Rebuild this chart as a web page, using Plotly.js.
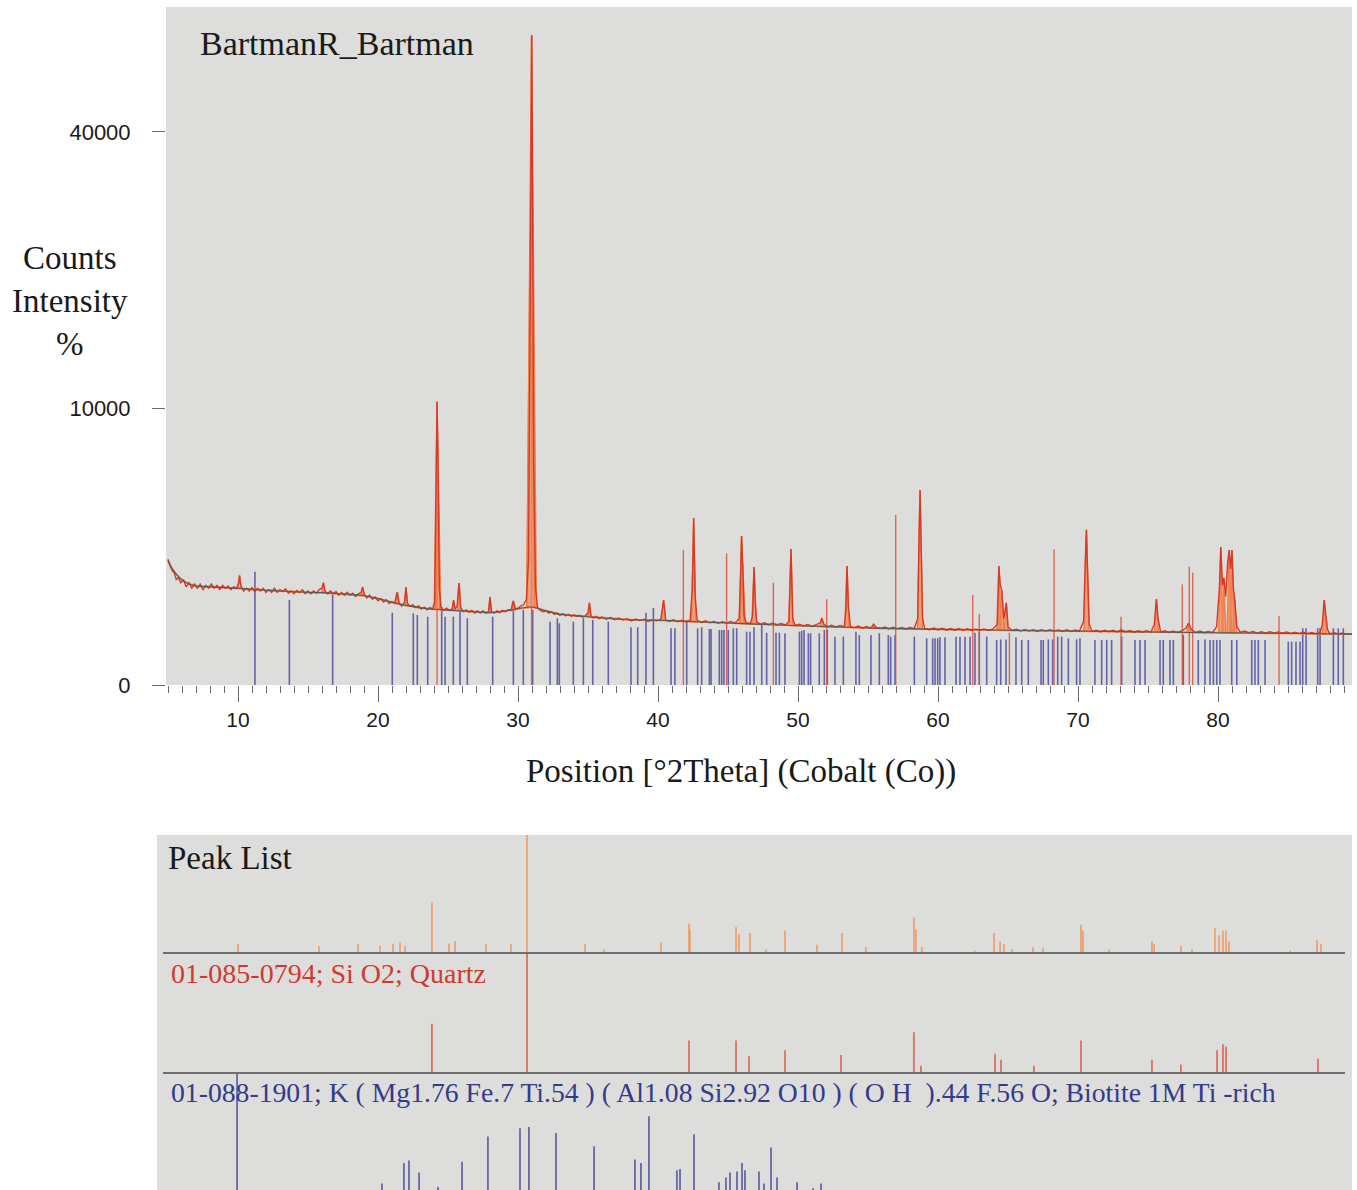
<!DOCTYPE html>
<html>
<head>
<meta charset="utf-8">
<script src="https://cdn.plot.ly/plotly-3.0.1.min.js"></script>
<style>
html,body{margin:0;padding:0;background:#fff;}
#chart{width:1357px;height:1190px;}
</style>
</head>
<body>
<div id="chart"></div>
<script>
// ---------------- DATA ----------------
// Observed scan: [°2Theta, counts]
const observedPattern = [
[5.0,2070],[5.15,1849],[5.3,1722],[5.45,1640],[5.6,1444],[5.75,1521],[5.9,1369],[6.1,1444],[6.3,1260],[6.5,1369],[6.7,1225],[6.9,1332],[7.1,1225],[7.3,1332],[7.5,1190],[7.7,1296],[7.9,1225],[8.1,1332],[8.3,1225],[8.5,1296],[8.7,1190],[8.9,1296],[9.1,1225],[9.3,1282],[9.5,1190],[9.7,1260],[9.9,1225],[10.05,1369],[10.12,1560],[10.2,1296],[10.4,1156],[10.6,1225],[10.8,1156],[11.0,1239],[11.2,1142],[11.4,1225],[11.6,1156],[11.8,1225],[12.0,1122],[12.2,1190],[12.4,1122],[12.6,1225],[12.8,1122],[13.0,1190],[13.2,1142],[13.4,1211],[13.6,1102],[13.8,1156],[14.0,1089],[14.2,1170],[14.4,1116],[14.6,1190],[14.8,1089],[15.0,1156],[15.2,1089],[15.4,1156],[15.6,1102],[15.8,1190],[16.0,1225],[16.1,1369],[16.2,1156],[16.4,1089],[16.6,1156],[16.8,1089],[17.0,1142],[17.2,1056],[17.4,1122],[17.6,1056],[17.8,1122],[18.0,1050],[18.2,1102],[18.4,1024],[18.6,1089],[18.8,1122],[18.9,1260],[19.0,1089],[19.2,992],[19.4,1056],[19.6,961],[19.8,1011],[20.0,930],[20.2,973],[20.4,900],[20.6,949],[20.8,870],[21.0,912],[21.2,870],[21.35,1122],[21.5,870],[21.7,812],[21.9,900],[22.0,1253],[22.1,870],[22.3,812],[22.5,841],[22.7,784],[22.9,818],[23.1,756],[23.3,795],[23.5,740],[23.7,784],[23.9,756],[24.05,900],[24.15,4900],[24.22,10486],[24.3,5776],[24.38,1225],[24.5,784],[24.7,729],[24.9,773],[25.1,729],[25.3,756],[25.4,942],[25.5,756],[25.65,812],[25.78,1362],[25.9,784],[26.1,702],[26.3,740],[26.5,692],[26.7,729],[26.9,676],[27.1,718],[27.3,676],[27.5,718],[27.7,676],[27.9,702],[28.0,1011],[28.1,702],[28.3,676],[28.5,718],[28.7,686],[28.9,729],[29.1,702],[29.3,740],[29.5,729],[29.65,924],[29.8,756],[30.0,773],[30.2,812],[30.4,841],[30.6,961],[30.75,2025],[30.85,14400],[30.93,36100],[30.98,55225],[31.04,32400],[31.12,6400],[31.25,1225],[31.4,784],[31.6,729],[31.8,702],[32.0,718],[32.2,676],[32.4,702],[32.6,650],[32.8,676],[33.0,635],[33.2,666],[33.4,625],[33.6,655],[33.8,615],[34.0,645],[34.2,615],[34.4,635],[34.6,600],[34.8,625],[35.0,676],[35.1,882],[35.2,625],[35.4,586],[35.6,615],[35.8,576],[36.0,605],[36.3,566],[36.6,595],[36.9,557],[37.2,586],[37.5,552],[37.8,576],[38.1,538],[38.4,571],[38.7,543],[39.0,566],[39.3,529],[39.6,557],[39.9,538],[40.2,566],[40.4,942],[40.55,552],[40.8,529],[41.1,557],[41.4,524],[41.7,548],[42.0,520],[42.3,552],[42.45,1225],[42.55,3648],[42.65,1024],[42.8,548],[43.1,511],[43.4,538],[43.7,506],[44.0,529],[44.3,497],[44.6,524],[44.9,502],[45.2,529],[45.5,502],[45.8,576],[45.9,1600],[45.97,2905],[46.05,1936],[46.15,625],[46.3,506],[46.6,493],[46.75,625],[46.86,1823],[46.95,900],[47.05,520],[47.3,484],[47.6,506],[47.9,475],[48.2,502],[48.5,471],[48.8,493],[49.1,467],[49.35,529],[49.5,2421],[49.62,576],[49.8,462],[50.1,484],[50.4,454],[50.7,480],[51.0,449],[51.3,475],[51.6,506],[51.7,586],[51.85,484],[52.1,441],[52.4,467],[52.7,437],[53.0,462],[53.3,441],[53.42,729],[53.5,1849],[53.6,784],[53.75,449],[54.0,428],[54.3,454],[54.6,424],[54.9,449],[55.2,424],[55.4,484],[55.6,433],[55.9,416],[56.2,441],[56.5,412],[56.8,437],[57.1,412],[57.4,433],[57.7,408],[58.0,433],[58.3,416],[58.55,576],[58.65,3025],[58.72,4970],[58.8,2500],[58.9,576],[59.05,416],[59.4,400],[59.7,424],[60.0,396],[60.3,420],[60.6,392],[60.9,416],[61.2,392],[61.5,416],[61.8,388],[62.1,412],[62.4,388],[62.7,408],[63.0,392],[63.3,412],[63.6,388],[63.9,408],[64.25,484],[64.35,1849],[64.45,1296],[64.55,1183],[64.7,576],[64.88,882],[65.0,441],[65.3,388],[65.6,408],[65.9,380],[66.2,404],[66.5,380],[66.8,400],[67.1,376],[67.4,400],[67.7,380],[68.0,400],[68.3,380],[68.6,396],[68.9,376],[69.2,400],[69.5,376],[69.8,396],[70.1,380],[70.4,529],[70.52,2025],[70.6,3147],[70.68,1764],[70.8,484],[71.0,376],[71.3,392],[71.6,369],[71.9,392],[72.2,372],[72.5,392],[72.8,369],[73.1,400],[73.4,369],[73.7,388],[74.0,365],[74.3,384],[74.6,365],[74.9,384],[75.2,361],[75.45,484],[75.6,967],[75.72,576],[75.9,369],[76.2,384],[76.5,361],[76.8,380],[77.1,361],[77.4,384],[77.7,420],[77.9,502],[78.1,400],[78.4,361],[78.7,380],[79.0,357],[79.3,376],[79.6,357],[79.9,441],[80.1,1225],[80.2,2490],[80.32,1296],[80.42,1498],[80.55,1024],[80.7,2025],[80.8,2381],[80.9,1764],[81.0,2381],[81.1,1225],[81.2,942],[81.35,441],[81.6,361],[81.9,380],[82.2,357],[82.5,376],[82.8,353],[83.1,372],[83.4,353],[83.7,372],[84.0,350],[84.3,369],[84.6,350],[84.9,369],[85.2,346],[85.5,365],[85.8,346],[86.1,365],[86.4,346],[86.7,361],[87.0,342],[87.3,361],[87.45,484],[87.58,942],[87.7,676],[87.82,400],[88.0,342],[88.3,357],[88.6,339],[88.9,353],[89.2,335],[89.6,346]
];

// Fitted background: [°2Theta, counts]
const backgroundPattern = [
[5.0,2025],[5.3,1764],[5.6,1600],[6.0,1444],[6.5,1332],[7,1282],[8,1260],[9,1239],[10,1225],[11,1197],[12,1176],[13,1156],[14,1136],[15,1122],[16,1116],[17,1096],[18,1076],[19,1043],[20,980],[21,894],[22,829],[23,778],[24,751],[25,734],[26,718],[27,697],[28,686],[29,713],[30,762],[31,795],[32,718],[33,655],[34,630],[35,610],[36,586],[37,571],[38,557],[40,548],[42,529],[44,511],[46,493],[48,475],[50,458],[52,445],[54,433],[56,420],[58,412],[60,404],[62,400],[64,396],[66,388],[68,384],[70,380],[72,376],[74,369],[76,365],[78,361],[80,357],[82,353],[84,350],[86,346],[88,342],[89.6,339]
];

// Calculated profile peaks: position, top counts, base counts, half width (°2Theta)
const calcPeakPos   = [10.1,16.1,18.9,21.4,22.0,24.22,24.3,25.4,25.8,28.0,29.7,30.97,30.9,35.1,40.4,42.55,45.97,46.05,46.86,49.5,51.7,53.5,55.4,58.72,64.35,64.55,64.88,70.6,75.6,77.9,80.2,80.42,80.8,81.0,81.2,87.6];
const calcPeakTop   = [1584,1362,1253,1129,1253,10486,5776,942,1362,1011,924,55225,32000,882,942,3648,2905,1936,1823,2421,586,1849,484,4970,1849,1183,882,3147,967,502,2490,1498,2381,2381,942,942];
const calcPeakBase  = [1225,1116,1060,870,829,751,751,734,725,686,740,790,790,605,548,529,500,500,490,462,449,437,424,412,396,396,394,380,367,361,357,357,357,355,355,343];
const calcPeakHalfW = [0.12,0.12,0.12,0.12,0.12,0.2,0.18,0.1,0.13,0.12,0.12,0.34,0.28,0.12,0.14,0.16,0.16,0.18,0.15,0.15,0.14,0.15,0.12,0.18,0.16,0.16,0.14,0.18,0.14,0.14,0.15,0.13,0.15,0.15,0.13,0.14];

// Reference sticks in the scan panel (Biotite, blue): [°2Theta, counts]
const biotiteScanSticks = [
[11.21,1679],[13.67,945],[16.76,1059],[21.02,683],[22.52,672],[22.81,641],[23.55,610],[24.55,801],[24.79,610],[25.38,610],[25.86,769],[26.38,582],[28.19,610],[29.67,837],[30.38,736],[31.05,736],[32.29,524],[32.81,582],[32.95,498],[33.95,524],[34.67,582],[35.34,553],[36.45,524],[38.07,436],[38.55,436],[39.14,678],[39.67,775],[40.93,420],[41.21,420],[42.05,553],[42.83,420],[43.12,436],[43.67,410],[43.79,410],[44.38,396],[44.55,396],[44.71,396],[45.02,396],[45.38,420],[45.62,420],[46.33,372],[46.57,372],[46.86,436],[47.41,471],[47.76,357],[48.43,357],[48.67,357],[49.07,350],[50.1,372],[50.26,385],[50.43,396],[50.74,350],[50.9,350],[51.52,350],[51.88,396],[52.09,396],[52.64,306],[53.24,306],[54.14,372],[54.38,327],[55.21,327],[55.81,350],[56.45,327],[56.62,306],[56.93,327],[58.31,306],[59.19,285],[59.62,285],[59.79,285],[59.98,285],[60.14,299],[60.5,299],[61.29,306],[61.57,306],[61.93,306],[62.29,306],[62.64,357],[62.95,372],[63.48,306],[64.19,265],[64.48,272],[64.86,272],[65.57,299],[65.98,265],[66.45,265],[67.36,265],[67.52,265],[67.88,272],[68.19,272],[68.55,306],[68.83,306],[69.31,285],[69.9,272],[70.14,285],[71.21,265],[71.69,265],[72.05,265],[72.4,265],[73.12,306],[74.07,265],[74.43,265],[74.79,265],[75.86,265],[76.09,265],[76.57,265],[76.81,265],[77.52,327],[78.59,265],[79.07,272],[79.43,265],[79.67,265],[79.91,265],[80.14,265],[80.98,265],[81.34,265],[82.41,265],[82.64,265],[82.88,265],[83.36,265],[85.02,245],[85.26,245],[85.57,245],[85.86,245],[86.05,420],[86.29,420],[87.12,420],[87.29,420],[88.24,420],[88.59,420],[88.95,420]
];

// Red marker sticks in the scan panel: [°2Theta, counts]
const redScanSticks = [
[24.22,10486],[30.97,55225],[41.81,2384],[44.9,2266],[48.24,1369],[52.05,961],[56.98,3782],[62.48,1059],[62.95,659],[65.1,357],[68.29,2409],[73.07,610],[77.45,1325],[77.95,1830],[78.19,1650],[84.36,623]
];

// Peak List panel: [°2Theta, relative %]
const peakList = [
[10.36,7.6],[16.14,6],[18.93,7.6],[20.5,6],[21.43,7.6],[21.93,9],[22.29,6],[24.21,43],[25.43,8],[25.86,10],[28.07,7.6],[29.86,7.6],[31.0,100],[35.14,7.6],[36.5,3],[40.57,9],[42.57,25],[42.64,20],[45.93,22],[46.14,16],[46.93,17],[48.07,3],[49.43,19],[51.71,7],[53.5,17],[55.21,5],[58.64,30],[58.79,20],[59.21,5],[63.0,2],[64.36,17],[64.79,10],[65.07,7.5],[65.64,3.4],[67.14,4.8],[67.86,4],[70.57,24],[70.71,19],[72.57,3],[75.64,10],[75.79,7.6],[77.71,6],[78.5,3],[80.14,21],[80.43,15],[80.71,19],[80.93,19],[81.14,10],[85.5,2],[87.43,11],[87.71,7.6]
];

// Reference pattern 01-085-0794 Quartz: [°2Theta, relative %]
const quartzRef = [
[24.21,41],[31.0,100],[42.57,27],[45.93,27],[46.86,14],[49.43,19],[53.43,15],[58.64,34],[59.14,6],[64.43,16],[64.86,11],[67.21,6],[70.57,27],[75.64,11],[77.71,7],[80.29,19],[80.71,24],[80.93,22],[87.5,12]
];

// Reference pattern 01-088-1901 Biotite: [°2Theta, relative %]
const biotiteRef = [
[10.29,100],[20.64,8],[22.21,25],[22.57,27],[23.29,17],[24.64,5],[26.36,26],[28.21,47],[30.5,54],[31.14,55],[33.07,50],[35.79,39],[38.71,28],[39.14,25],[39.71,64],[41.71,19],[41.93,20],[42.93,49],[44.71,9],[45.21,13],[45.5,17],[46.0,18],[46.36,25],[46.57,19],[47.57,18],[47.93,8],[48.43,38],[48.86,13],[50.29,9],[51.43,4],[52.0,8]
];

const xTickVals = [10,20,30,40,50,60,70,80];
const yTickCounts = [0,10000,40000];
const yTickText = ['0','10000','40000'];

const sampleTitle = 'BartmanR_Bartman';
const xTitle = 'Position [°2Theta] (Cobalt (Co))';
const yTitle = 'Counts<br>Intensity<br>%';
const peakListTitle = 'Peak List';
const quartzLabel = '01-085-0794; Si O2; Quartz';
const biotiteLabel = '01-088-1901; K ( Mg1.76 Fe.7 Ti.54 ) ( Al1.08 Si2.92 O10 ) ( O H\u00a0\u00a0).44 F.56 O; Biotite 1M Ti -rich';

// ---------------- DRAWING ----------------
const W = 1357, H = 1190;
const px = v => v / W;
const py = v => 1 - v / H;
const sq = c => Math.sqrt(c);

function stickXY(list, transform) {
  const x = [], y = [];
  list.forEach(([p, v]) => { x.push(p, p, null); y.push(0, transform(v), null); });
  return {x, y};
}

function peakPolys() {
  const x = [], y = [];
  calcPeakPos.forEach((p, i) => {
    const hw = calcPeakHalfW[i];
    x.push(p - hw, p, p + hw, p - hw, null);
    y.push(sq(calcPeakBase[i]), sq(calcPeakTop[i]), sq(calcPeakBase[i]), sq(calcPeakBase[i]), null);
  });
  return {x, y};
}

const traces = [];
const bSt = stickXY(biotiteScanSticks, sq);
traces.push({type:'scatter', mode:'lines', x:bSt.x, y:bSt.y, xaxis:'x', yaxis:'y',
  line:{color:'rgba(78,78,160,0.85)', width:1.6}, hoverinfo:'skip'});
const rSt = stickXY(redScanSticks, sq);
traces.push({type:'scatter', mode:'lines', x:rSt.x, y:rSt.y, xaxis:'x', yaxis:'y',
  line:{color:'rgba(222,80,60,0.85)', width:1.4}, hoverinfo:'skip'});
// calculated profile baseline + peaks
traces.push({type:'scatter', mode:'lines', x:backgroundPattern.map(d=>d[0]), y:backgroundPattern.map(d=>sq(d[1])),
  xaxis:'x', yaxis:'y', line:{color:'#ee8a5a', width:2}, hoverinfo:'skip'});
const pp = peakPolys();
traces.push({type:'scatter', mode:'lines', x:pp.x, y:pp.y, xaxis:'x', yaxis:'y', fill:'toself',
  fillcolor:'rgba(242,138,88,0.75)', line:{color:'#f07f4c', width:1.5}, hoverinfo:'skip'});
// observed scan
traces.push({type:'scatter', mode:'lines', x:observedPattern.map(d=>d[0]), y:observedPattern.map(d=>sq(d[1])),
  xaxis:'x', yaxis:'y', line:{color:'#d63a26', width:1.4}, hoverinfo:'skip'});
// background
traces.push({type:'scatter', mode:'lines', x:backgroundPattern.map(d=>d[0]), y:backgroundPattern.map(d=>sq(d[1])),
  xaxis:'x', yaxis:'y', line:{color:'#5f5a52', width:1.1, shape:'spline'}, hoverinfo:'skip'});

// Bottom panel sticks
const pl = stickXY(peakList, v => v);
traces.push({type:'scatter', mode:'lines', x:pl.x, y:pl.y, xaxis:'x2', yaxis:'y2',
  line:{color:'#f0965e', width:1.5}, hoverinfo:'skip'});
const qz = stickXY(quartzRef, v => v);
traces.push({type:'scatter', mode:'lines', x:qz.x, y:qz.y, xaxis:'x2', yaxis:'y3',
  line:{color:'#e0503c', width:1.4}, hoverinfo:'skip'});
const bt = stickXY(biotiteRef, v => v);
traces.push({type:'scatter', mode:'lines', x:bt.x, y:bt.y, xaxis:'x2', yaxis:'y4',
  line:{color:'#50509a', width:1.5}, hoverinfo:'skip'});

const serif = 'Liberation Serif, Times New Roman, serif';
const sans = 'Liberation Sans, Arial, sans-serif';

const hidden = {visible:false, showgrid:false, zeroline:false, fixedrange:true};

const layout = {
  width: W, height: H,
  margin: {l:0, r:0, t:0, b:0},
  paper_bgcolor: '#ffffff',
  plot_bgcolor: '#dddddb',
  showlegend: false,
  hovermode: false,
  xaxis: {
    domain: [px(166), px(1352)], range: [4.857, 89.571], anchor: 'y',
    tickmode: 'array', tickvals: xTickVals,
    ticks: 'outside', ticklen: 16, tickwidth: 1, tickcolor: '#6a6a6a',
    tickfont: {family: sans, size: 21, color: '#1a1a1a'},
    showgrid: false, zeroline: false, showline: false,
    minor: {dtick: 1, tick0: 0, ticks: 'outside', ticklen: 7, tickwidth: 1, tickcolor: '#6a6a6a', showgrid: false}
  },
  yaxis: {
    domain: [py(685), py(7)], range: [0, 245.2], anchor: 'x',
    tickmode: 'array', tickvals: yTickCounts.map(sq), ticktext: yTickText,
    ticks: 'outside', ticklen: 13, tickwidth: 1, tickcolor: '#6a6a6a',
    ticklabelstandoff: 17,
    tickfont: {family: sans, size: 22, color: '#1a1a1a'},
    showgrid: false, zeroline: false, showline: false
  },
  xaxis2: Object.assign({}, hidden, {domain: [px(157), px(1352)], range: [4.571, 89.929], anchor: 'y4'}),
  yaxis2: Object.assign({}, hidden, {domain: [py(953), py(835)], range: [0, 100], anchor: 'x2'}),
  yaxis3: Object.assign({}, hidden, {domain: [py(1073), py(953)], range: [0, 100], anchor: 'x2'}),
  yaxis4: Object.assign({}, hidden, {domain: [0, py(1073)], range: [2.5, 100], anchor: 'x2'}),
  shapes: [
    {type:'line', xref:'paper', yref:'paper', x0:px(163), x1:px(1345), y0:py(953), y1:py(953), line:{color:'#6e6e6e', width:2}, layer:'above'},
    {type:'line', xref:'paper', yref:'paper', x0:px(163), x1:px(1345), y0:py(1073), y1:py(1073), line:{color:'#6e6e6e', width:2}, layer:'above'}
  ],
  annotations: [
    {text: sampleTitle, xref:'paper', yref:'paper', x:px(198), y:py(44), xanchor:'left', yanchor:'middle', showarrow:false,
     font:{family: serif, size: 34, color:'#1a1a1a'}},
    {text: yTitle, xref:'paper', yref:'paper', x:px(70), y:py(301), xanchor:'center', yanchor:'middle', showarrow:false, align:'center',
     font:{family: serif, size: 33, color:'#1a1a1a'}},
    {text: xTitle, xref:'paper', yref:'paper', x:px(741), y:py(771), xanchor:'center', yanchor:'middle', showarrow:false,
     font:{family: serif, size: 33, color:'#1a1a1a'}},
    {text: peakListTitle, xref:'paper', yref:'paper', x:px(166), y:py(858), xanchor:'left', yanchor:'middle', showarrow:false,
     font:{family: serif, size: 33, color:'#1a1a1a'}},
    {text: quartzLabel, xref:'paper', yref:'paper', x:px(169), y:py(973), xanchor:'left', yanchor:'middle', showarrow:false,
     font:{family: serif, size: 28, color:'#cf3a30'}},
    {text: biotiteLabel, xref:'paper', yref:'paper', x:px(169), y:py(1092), xanchor:'left', yanchor:'middle', showarrow:false,
     font:{family: serif, size: 27.7, color:'#333b8c'}}
  ]
};

Plotly.newPlot('chart', traces, layout, {staticPlot: true, displayModeBar: false});
</script>
</body>
</html>
